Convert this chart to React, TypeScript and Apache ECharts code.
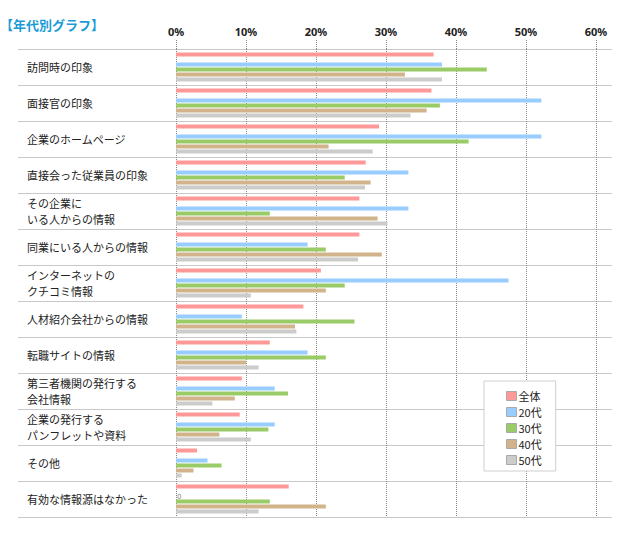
import React, { useEffect, useRef } from "react";
import * as echarts from "echarts";

const categories = [
  "訪問時の印象",
  "面接官の印象",
  "企業のホームページ",
  "直接会った従業員の印象",
  "その企業に\nいる人からの情報",
  "同業にいる人からの情報",
  "インターネットの\nクチコミ情報",
  "人材紹介会社からの情報",
  "転職サイトの情報",
  "第三者機関の発行する\n会社情報",
  "企業の発行する\nパンフレットや資料",
  "その他",
  "有効な情報源はなかった",
];

const seriesNames = ["全体", "20代", "30代", "40代", "50代"];
const allAges = [36.8, 36.5, 29.0, 27.1, 26.2, 26.2, 20.7, 18.2, 13.4, 9.4, 9.1, 3.0, 16.1];
const age20 = [38.0, 52.2, 52.2, 33.2, 33.2, 18.8, 47.5, 9.4, 18.8, 14.1, 14.1, 4.5, 0];
const age30 = [44.4, 37.7, 41.8, 24.1, 13.4, 21.4, 24.1, 25.5, 21.4, 16.0, 13.2, 6.5, 13.4];
const age40 = [32.7, 35.8, 21.8, 27.8, 28.8, 29.4, 21.4, 17.0, 10.0, 8.4, 6.2, 2.5, 21.4];
const age50 = [38.0, 33.5, 28.1, 27.0, 30.2, 26.0, 10.7, 17.2, 11.8, 5.2, 10.7, 0.8, 11.8];
const colors = ["#ff9999", "#99ccff", "#99cc66", "#d2b48c", "#cccccc"];

const JP = "'Noto Sans CJK JP', 'Noto Sans', sans-serif";

export default function App() {
  const ref = useRef<HTMLDivElement>(null);
  useEffect(() => {
    if (!ref.current) return;
    const chart = echarts.init(ref.current, null, { renderer: "svg" });
    const dataSets = [allAges, age20, age30, age40, age50];
    const mkSeries = (i: number) => ({
      name: seriesNames[i],
      type: "bar",
      xAxisIndex: 0,
      yAxisIndex: 0,
      barWidth: 4,
      barGap: "25%",
      itemStyle: { color: colors[i] },
      data: dataSets[i].map((v) =>
        v === 0
          ? {
              value: v,
              label: {
                show: true,
                position: "right",
                distance: 1,
                formatter: "0",
                fontSize: 7,
                color: "#888",
                fontFamily: "DejaVu Sans",
              },
            }
          : v
      ),
    });
    const option: any = {
      animation: false,
      title: {
        text: "【年代別グラフ】",
        left: 0,
        top: 18,
        padding: 0,
        textStyle: { color: "#1a9bd7", fontSize: 13, fontWeight: "bold", fontFamily: JP },
      },
      legend: {
        data: seriesNames,
        orient: "vertical",
        left: 484,
        top: 381,
        padding: [7, 14, 3, 22],
        itemWidth: 10,
        itemHeight: 9,
        itemGap: 0,
        borderColor: "#cfcfcf",
        borderWidth: 1,
        backgroundColor: "#fff",
        icon: "rect",
        itemStyle: { borderColor: "#aaa", borderWidth: 1 },
        textStyle: { fontSize: 11, color: "#222", fontFamily: JP, lineHeight: 16, padding: [0, 0, 0, -3] },
      },
      grid: [
        { left: 176, right: 36, top: 49, bottom: 21 },
        { left: 18, right: 20, top: 49, bottom: 21 },
      ],
      xAxis: [
        {
          gridIndex: 0,
          type: "value",
          position: "top",
          min: 0,
          max: 60,
          interval: 10,
          axisLine: { show: false },
          axisTick: { show: true, length: 10, lineStyle: { color: "#888", type: [1, 1] } },
          axisLabel: {
            formatter: "{value}%",
            fontSize: 11,
            fontWeight: "bold",
            color: "#222",
            margin: 12,
            fontFamily: "'Noto Sans', sans-serif",
          },
          splitLine: { show: true, lineStyle: { color: "#888", type: [1, 1] } },
        },
        { gridIndex: 1, type: "value", show: false, min: 0, max: 1 },
      ],
      yAxis: [
        {
          gridIndex: 0,
          type: "category",
          inverse: true,
          data: categories,
          axisLine: { show: false },
          axisTick: { show: false },
          axisLabel: {
            align: "left",
            margin: 149,
            fontSize: 11,
            lineHeight: 16,
            color: "#222",
            fontFamily: JP,
          },
          splitLine: { show: false },
        },
        {
          gridIndex: 1,
          type: "category",
          inverse: true,
          data: categories,
          axisLine: { show: false },
          axisTick: { show: false },
          axisLabel: { show: false },
          splitLine: { show: true, lineStyle: { color: "#c8c8c8", width: 1 } },
        },
      ],
      series: [
        mkSeries(0),
        {
          name: "spacer",
          type: "bar",
          xAxisIndex: 0,
          yAxisIndex: 0,
          barWidth: 4,
          barGap: "25%",
          silent: true,
          itemStyle: { color: "transparent" },
          data: [],
        },
        mkSeries(1),
        mkSeries(2),
        mkSeries(3),
        mkSeries(4),
      ],
    };
    chart.setOption(option);
    return () => chart.dispose();
  }, []);
  return (
    <div
      ref={ref}
      style={{ position: "fixed", left: 0, top: 0, width: 632, height: 538, background: "#fff" }}
    />
  );
}
